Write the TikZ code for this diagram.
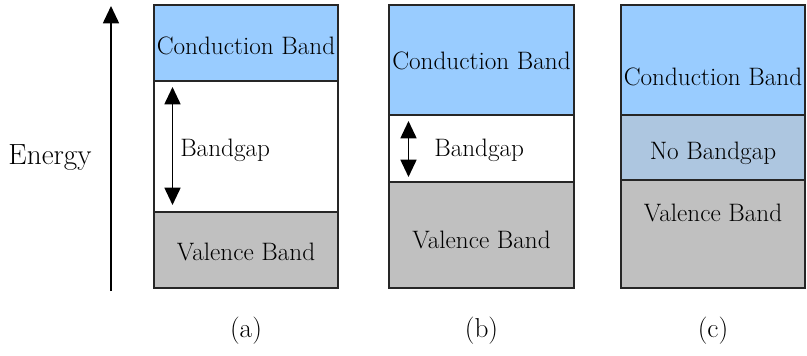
\documentclass[tikz,border=0pt]{standalone}
\usetikzlibrary{arrows.meta}
\definecolor{cbblue}{HTML}{99CCFF}
\definecolor{vbgray}{HTML}{C0C0C0}
\definecolor{nbblue}{HTML}{ADC6E0}
\begin{document}
\begin{tikzpicture}[x=0.75pt,y=-0.75pt,
  band/.style={draw=black!85,line width=1.4pt},
  lbl/.style={font=\fontsize{18.9}{22}\selectfont, inner sep=0pt},
  tip/.tip={Triangle[width=12pt,length=13pt]},
  arr/.style={line width=1.3pt,-tip},
  darr/.style={line width=1.3pt,tip-tip}]
\useasboundingbox (0,0) rectangle (807,356);
% Energy axis
\coordinate (e0) at (111,291);
\coordinate (e1) at (111,6);
\draw[arr] (e0) -- (e1);
\node[lbl, font=\fontsize{21.9}{24}\selectfont] (energy) at (50,158) {Energy};
% Panel (a)
\draw[band, fill=cbblue] (154,5) rectangle (338,81);
\draw[band, fill=white] (154,81) rectangle (338,212);
\draw[band, fill=vbgray] (154,212) rectangle (338,288);
\node[lbl] (acb) at (246,46) {Conduction Band};
\node[lbl, anchor=west] (abg) at (180,150) {Bandgap};
\node[lbl] (avb) at (246,252) {Valence Band};
\coordinate (aa0) at (172.5,87);
\coordinate (aa1) at (172.5,205);
\draw[darr] (aa0) -- (aa1);
\node[lbl, font=\fontsize{20.5}{23}\selectfont] (la) at (246,331) {(a)};
% Panel (b)
\draw[band, fill=cbblue] (389,5) rectangle (574,115);
\draw[band, fill=white] (389,115) rectangle (574,182);
\draw[band, fill=vbgray] (389,182) rectangle (574,288);
\node[lbl] (bcb) at (481.5,61) {Conduction Band};
\node[lbl, anchor=west] (bbg) at (434,150) {Bandgap};
\node[lbl] (bvb) at (481.5,240) {Valence Band};
\coordinate (ba0) at (408.5,121);
\coordinate (ba1) at (408.5,177);
\draw[darr] (ba0) -- (ba1);
\node[lbl, font=\fontsize{20.5}{23}\selectfont] (lb) at (481.5,331) {(b)};
% Panel (c)
\draw[band, fill=cbblue] (621,5) rectangle (805,115);
\draw[band, fill=nbblue] (621,115) rectangle (805,180);
\draw[band, fill=vbgray] (621,180) rectangle (805,288);
\node[lbl] (ccb) at (713,77) {Conduction Band};
\node[lbl] (cnb) at (713,153) {No Bandgap};
\node[lbl] (cvb) at (713,213) {Valence Band};
\node[lbl, font=\fontsize{20.5}{23}\selectfont] (lc) at (713,331) {(c)};
\end{tikzpicture}
\end{document}
